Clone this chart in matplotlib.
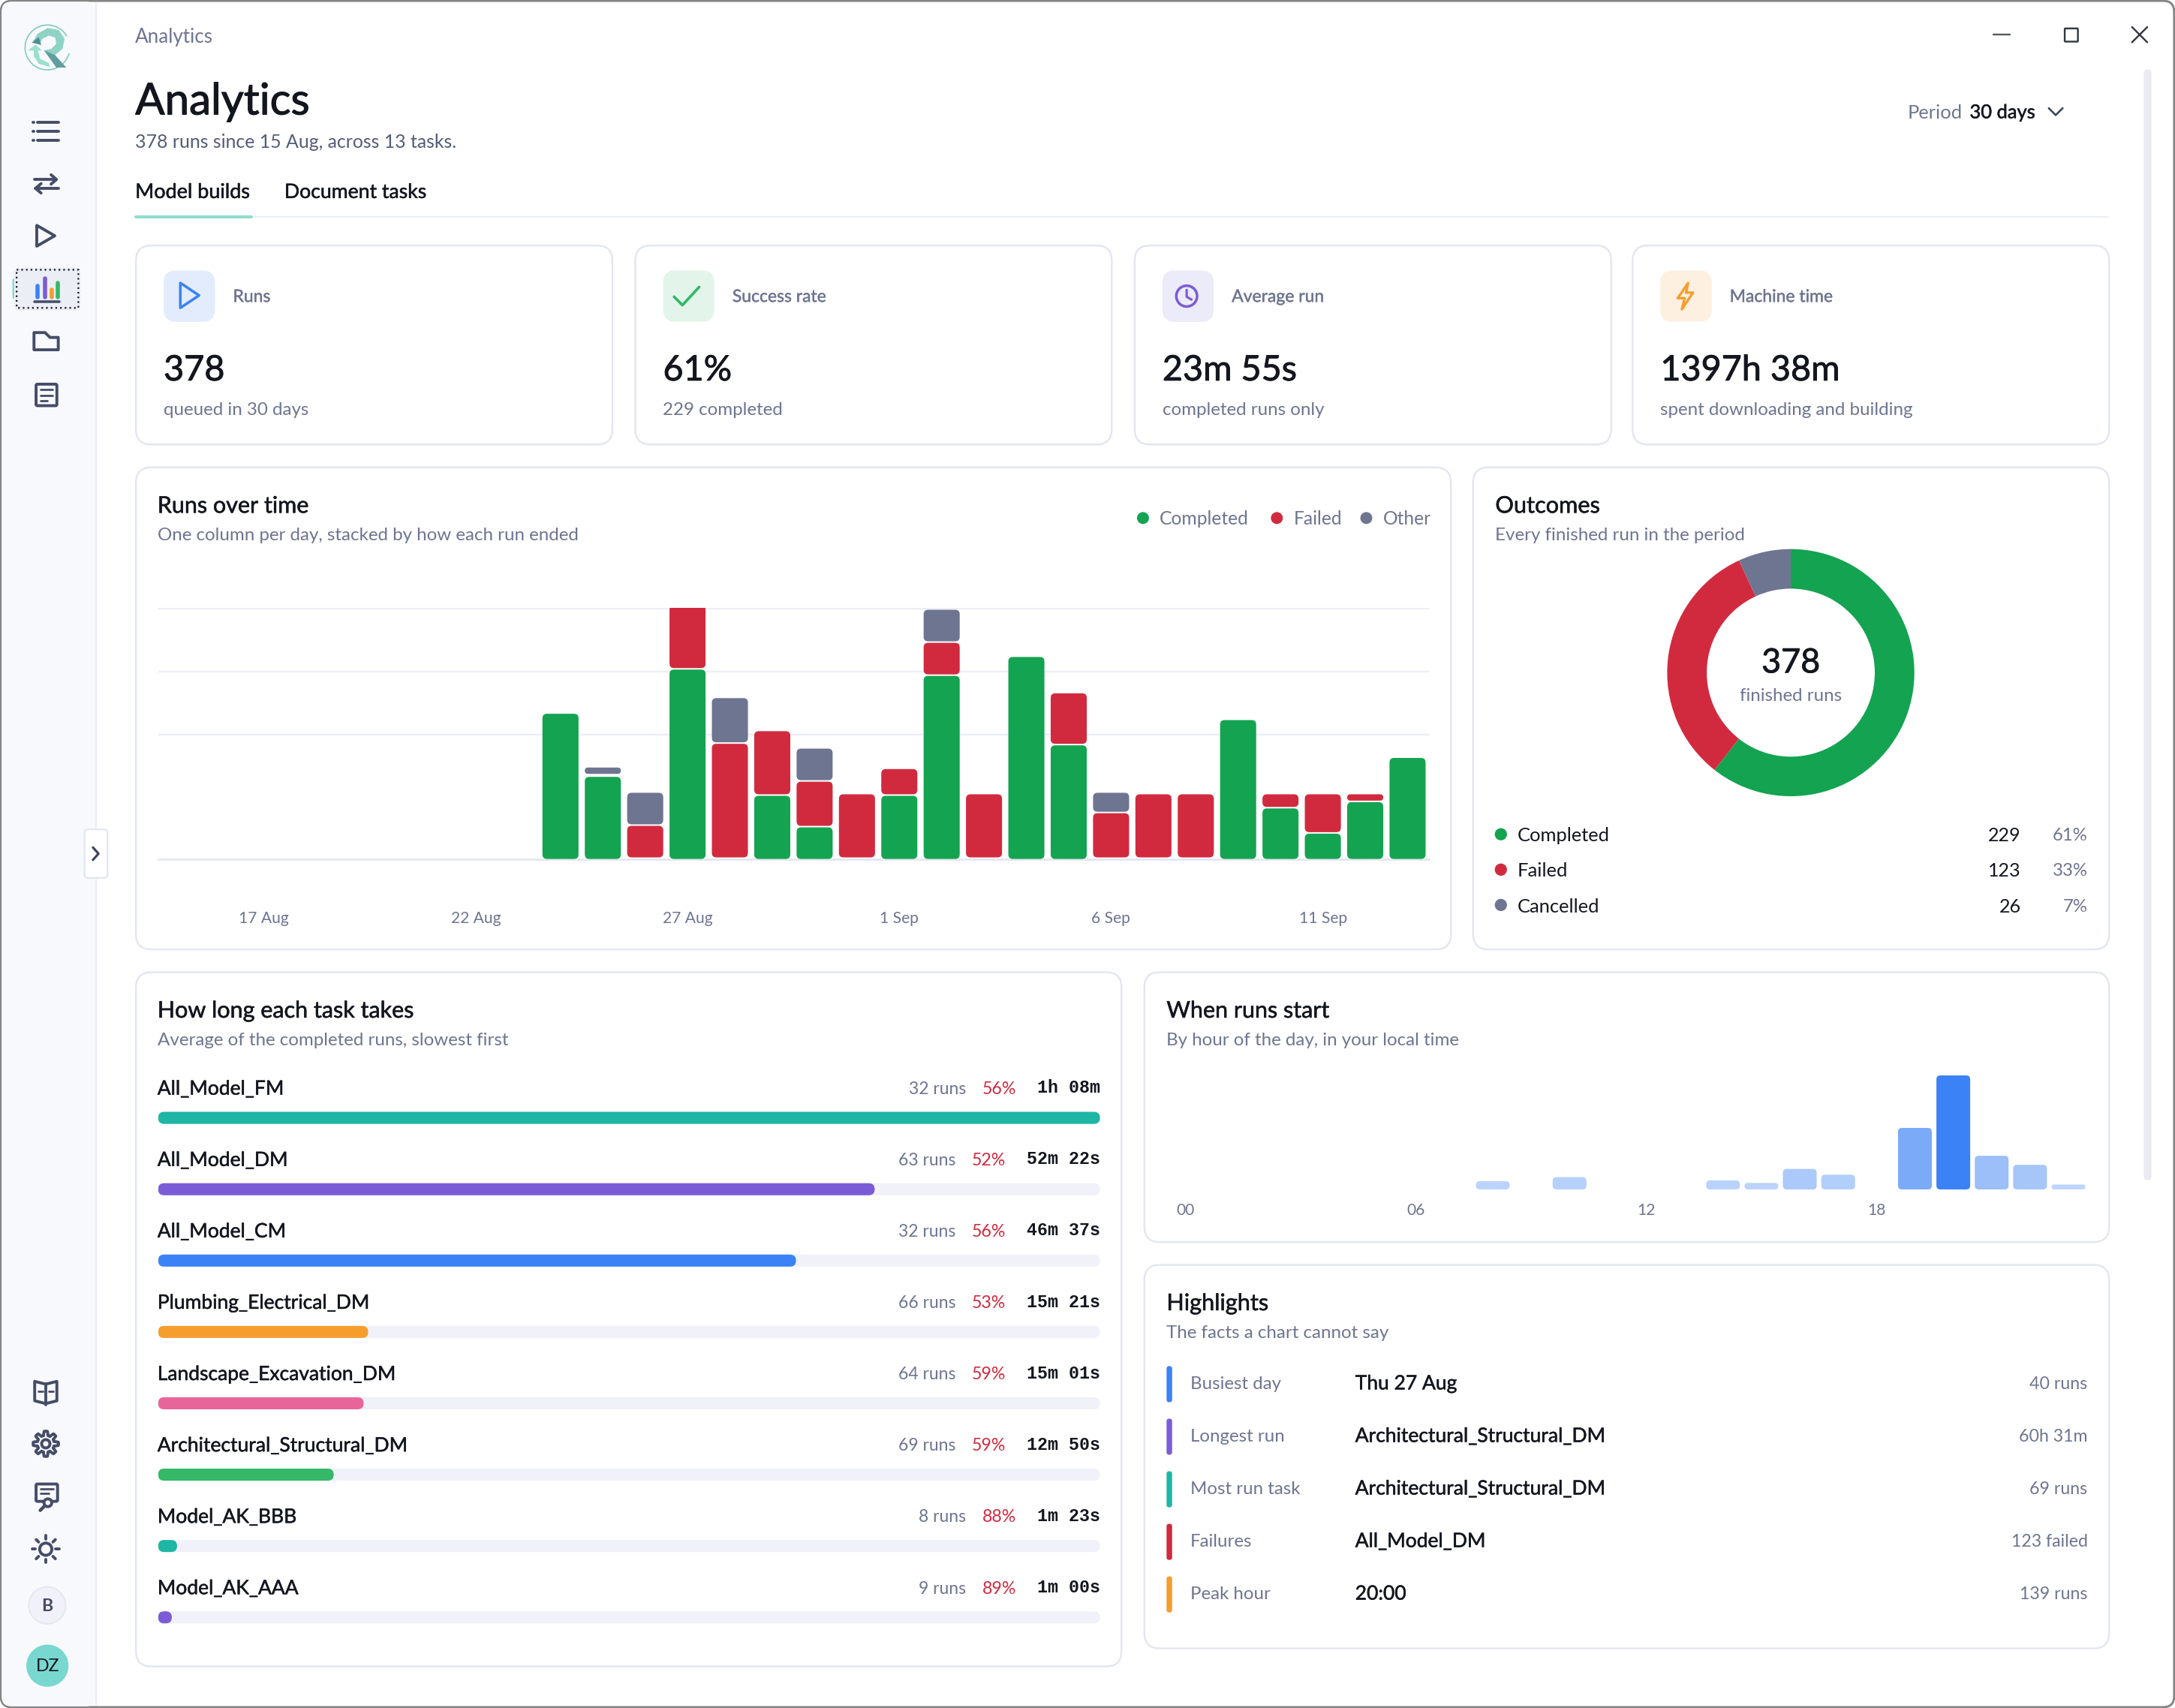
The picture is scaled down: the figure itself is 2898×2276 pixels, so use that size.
"""Analytics dashboard recreated with matplotlib"""
import matplotlib
matplotlib.use("Agg")
import matplotlib.pyplot as plt
import matplotlib.patheffects as pe
import numpy as np
from matplotlib.patches import Circle, FancyBboxPatch, Polygon, Wedge

plt.rcParams["font.family"] = ["Lato", "DejaVu Sans"]

# runs per day, 15 Aug to 13 Sep
days = np.arange(30)
completed = [0, 0, 0, 0, 0, 0, 0, 0, 0, 23, 13, 0, 30, 0, 10, 5, 0, 10, 29, 0, 32, 18, 0, 0, 0, 22, 8, 4, 9, 16]
failed = [0, 0, 0, 0, 0, 0, 0, 0, 0, 0, 0, 5, 10, 18, 10, 7, 10, 4, 5, 10, 0, 8, 7, 10, 10, 0, 2, 6, 1, 0]
other = [0, 0, 0, 0, 0, 0, 0, 0, 0, 0, 1, 5, 0, 7, 0, 5, 0, 0, 5, 0, 0, 0, 3, 0, 0, 0, 0, 0, 0, 0]
day_ticks = [2, 7, 12, 17, 22, 27]
day_labels = ["17 Aug", "22 Aug", "27 Aug", "1 Sep", "6 Sep", "11 Sep"]
grid_values = [19.7, 29.7, 39.7]

outcome_names = ["Completed", "Failed", "Cancelled"]
outcome_counts = [229, 123, 26]
outcome_pcts = ["61%", "33%", "7%"]

tasks = ["All_Model_FM", "All_Model_DM", "All_Model_CM", "Plumbing_Electrical_DM", "Landscape_Excavation_DM",
         "Architectural_Structural_DM", "Model_AK_BBB", "Model_AK_AAA"]
task_seconds = [4130, 3142, 2797, 921, 901, 770, 83, 60]
task_times = ["1h 08m", "52m 22s", "46m 37s", "15m 21s", "15m 01s", "12m 50s", "1m 23s", "1m 00s"]
task_runs = [32, 63, 32, 66, 64, 69, 8, 9]
task_rates = [56, 52, 56, 53, 59, 59, 88, 89]

hour_counts = [0, 0, 0, 0, 0, 0, 0, 0, 10, 0, 15, 0, 0, 0, 11, 8, 25, 18, 0, 75, 139, 41, 30, 6]
hour_ticks = [0, 6, 12, 18]
hour_labels = ["00", "06", "12", "18"]

kpi_titles = ["Runs", "Success rate", "Average run", "Machine time"]
kpi_values = ["378", "61%", "23m 55s", "1397h 38m"]
kpi_notes = ["queued in 30 days", "229 completed", "completed runs only", "spent downloading and building"]

highlight_names = ["Busiest day", "Longest run", "Most run task", "Failures", "Peak hour"]
highlight_values = ["Thu 27 Aug", "Architectural_Structural_DM", "Architectural_Structural_DM", "All_Model_DM", "20:00"]
highlight_notes = ["40 runs", "60h 31m", "69 runs", "123 failed", "139 runs"]

# colours
INK = "#14161f"
MUTED = "#6e7591"
ICON = "#454c68"
LINE = "#e3e6f1"
TRACK = "#f0f1f9"
GREEN = "#14a350"
RED = "#d12a3f"
GREY = "#6e7591"
TEAL = "#1fb6a6"
PURPLE = "#7c5cd6"
BLUE = "#3b82f6"
ORANGE = "#f59e2e"
PINK = "#e8659a"
LEAF = "#35b868"
task_colors = [TEAL, PURPLE, BLUE, ORANGE, PINK, LEAF, TEAL, PURPLE]
highlight_colors = [BLUE, PURPLE, TEAL, RED, ORANGE]

# layout is worked out in the scaled screenshot coordinates
W, H = 1568.0, 1231.5
PT = 2898 / W * 72 / 200  # one layout unit in points

fig = plt.figure(figsize=(14.49, 11.38), dpi=200, facecolor="white")
bg = fig.add_axes([0, 0, 1, 1])
bg.set_xlim(0, W)
bg.set_ylim(H, 0)
bg.axis("off")


def box(x0, y0, x1, y1, r=0, fc="white", ec="none", lw=1.0, ls="-", z=1):
    bg.add_patch(FancyBboxPatch((x0, y0), x1 - x0, y1 - y0, boxstyle=f"round,pad=0,rounding_size={r}",
                                fc=fc, ec=ec, lw=lw * PT, ls=ls, zorder=z))


def line(xs, ys, c=ICON, lw=2.1, z=5):
    bg.plot(xs, ys, color=c, lw=lw * PT, solid_capstyle="round", solid_joinstyle="round", zorder=z)


def text(x, y, s, size=13.5, c=INK, ha="left", weight="normal", family=None):
    t = bg.text(x, y + 0.5 + size * 0.05, s, fontsize=size * PT, color=c, ha=ha, va="center",
                family=family if family else ["Lato", "DejaVu Sans"], zorder=6,
                fontweight=weight if weight == "bold" else "normal")
    if weight == "medium":
        # no medium cut of the font, thicken the regular a little
        t.set_path_effects([pe.withStroke(linewidth=0.018 * size * PT, foreground=c)])


def inset(x0, y0, x1, y1):
    ax = fig.add_axes([x0 / W, 1 - y1 / H, (x1 - x0) / W, (y1 - y0) / H])
    ax.patch.set_alpha(0)
    for s in ax.spines.values():
        s.set_visible(False)
    return ax


def round_bar(ax, x, y, w, h, r, color, z=3):
    # rounded bar in data units, r is in layout units
    p0 = ax.transData.transform((0, 0))
    p1 = ax.transData.transform((1, 1))
    unit = fig.dpi * fig.get_figwidth() / W
    sx = abs(p1[0] - p0[0]) / unit
    sy = abs(p1[1] - p0[1]) / unit
    r = min(r, w * sx / 2, h * sy / 2)
    ax.add_patch(FancyBboxPatch((x, y), w, h, boxstyle=f"round,pad=0,rounding_size={r / sx}",
                                mutation_aspect=sx / sy, fc=color, ec="none", zorder=z))


def logo_poly(points, color, z=4):
    # points measured on a 3x crop of the logo
    pts = [((10 + px / 3) / 1.848, (10 + py / 3) / 1.848) for px, py in points]
    bg.add_patch(Polygon(pts, fc=color, ec="none", zorder=z))


# window and sidebar
box(0.6, 0.6, W - 0.6, H - 0.6, r=8, fc="white", ec="#858585", lw=1.6, z=0)
box(1.2, 1.2, 69, H - 1.2, r=7, fc="#f8f9fd", z=0.5)
line([69, 69], [2, H - 2], c="#eceef6", lw=1.2, z=1)

# logo
bg.add_patch(Wedge((34.2, 34.2), 16.6, 15, 330, width=0.9, fc="#86c9bd", ec="none", zorder=3))
logo_poly([(100, 140), (120, 105), (160, 82), (205, 90), (228, 125), (220, 165), (190, 190), (145, 172),
           (175, 165), (195, 145), (190, 120), (165, 112), (140, 125), (130, 142)], "#8fd3c4")
logo_poly([(145, 170), (190, 190), (235, 240), (195, 240)], "#5f9da1")
logo_poly([(97, 140), (125, 118), (135, 150)], "#4f8f94", z=5)
logo_poly([(82, 172), (112, 148), (138, 172), (122, 172), (130, 205), (165, 222), (170, 238), (125, 225),
           (105, 195), (105, 172)], "#9be0cf", z=5)

# sidebar icons
for yy in [88.2, 94.7, 101]:
    line([24, 24.4], [yy, yy])
    line([27, 42], [yy, yy])
line([25, 40.7], [129.4, 129.4])
line([36.8, 40.7, 36.8], [126, 129.4, 132.8])
line([42, 25.6], [135.8, 135.8])
line([29.6, 25.6, 29.6], [132.4, 135.8, 139.2])
bg.add_patch(Polygon([[26.5, 162.5], [26.5, 177.5], [39.5, 170]], fc="none", ec=ICON, lw=2.1 * PT, joinstyle="round", zorder=5))
box(10, 193, 58, 224, r=4, fc="#eceef5", z=2)
box(12, 194.5, 56.5, 222, r=0, fc="none", ec=INK, lw=1.2, ls=(0, (1, 1.8)), z=4)
line([10.5, 10.5], [202, 214], c="#62cfc0", lw=2.4, z=1.5)
line([27, 27], [206, 214], c=BLUE, lw=3)
line([32.3, 32.3], [201, 214], c=PURPLE, lw=3)
line([37.3, 37.3], [209, 214], c=ORANGE, lw=3)
line([41.5, 41.5], [204, 214], c=LEAF, lw=3)
line([25, 43], [217.5, 217.5], lw=1.9)
bg.add_patch(Polygon([[24.5, 239.8], [32.5, 239.8], [36, 243.3], [42, 243.3], [42, 252.2], [24.5, 252.2]],
                     fc="none", ec=ICON, lw=2.1 * PT, joinstyle="round", zorder=5))
box(26, 277, 41, 292.5, r=1, fc="none", ec=ICON, lw=2.1, z=5)
for yy, xe in [(281, 38), (285, 38), (289, 34)]:
    line([29, xe], [yy, yy], lw=1.5)

# bottom sidebar icons
line([33, 33], [998, 1013])
line([33, 25, 25, 33, 41, 41, 33], [998, 996, 1010, 1012, 1010, 996, 998])
line([27.5, 31], [1003, 1003], lw=1.5)
line([35, 38.5], [1003, 1003], lw=1.5)
ang = np.linspace(0, 2 * np.pi, 97)
rad = 7.6 + 1.5 * np.clip(np.cos(8 * ang) * 2.4, -1, 1)
line(33 + rad * np.cos(ang), 1041 + rad * np.sin(ang))
bg.add_patch(Circle((33, 1041), 3, fc="none", ec=ICON, lw=2.1 * PT, zorder=5))
box(26, 1070, 41.5, 1082.5, r=1, fc="none", ec=ICON, lw=2.1, z=5)
line([29, 38.5], [1073.5, 1073.5], lw=1.5)
line([29, 35], [1077, 1077], lw=1.5)
bg.add_patch(Circle((34.5, 1083.5), 2.8, fc="#f8f9fd", ec=ICON, lw=2.1 * PT, zorder=6))
line([32, 29], [1086, 1089], lw=2.4)
bg.add_patch(Circle((33, 1117), 4.4, fc="none", ec=ICON, lw=2.1 * PT, zorder=5))
for a in np.arange(8) * np.pi / 4:
    line([33 + 7.3 * np.cos(a), 33 + 9.8 * np.cos(a)], [1117 + 7.3 * np.sin(a), 1117 + 9.8 * np.sin(a)])
bg.add_patch(Circle((34, 1157.5), 13.3, fc="#f1f2f9", ec="#e6e8f0", lw=1.1 * PT, zorder=3))
text(34, 1157, "B", size=12.5, c=ICON, ha="center", weight="bold")
bg.add_patch(Circle((34.2, 1201), 15.2, fc="#78d7cf", ec="none", zorder=3))
text(34.2, 1200.5, "DZ", size=12.5, c=INK, ha="center")

# collapse handle and scrollbar
box(61, 598, 77.5, 633, r=2.5, fc="white", ec=LINE, lw=1.2, z=2)
line([67, 71, 67], [611, 615.5, 620], c="#3c435c", lw=1.7)
box(1545.5, 50, 1551, 851, r=2.7, fc="#e9ebf0", z=2)

# window controls
line([1437, 1449], [25, 25], c="#555a66", lw=1.3)
box(1488.5, 20.5, 1498, 30, r=0.5, fc="none", ec="#333740", lw=1.3, z=5)
line([1537, 1548], [19.5, 30.5], c="#333740", lw=1.3)
line([1548, 1537], [19.5, 30.5], c="#333740", lw=1.3)

# header
text(97.5, 25.5, "Analytics", size=14.1, c=MUTED)
text(97.5, 71.5, "Analytics", size=31.5, weight="medium")
text(97.5, 101.5, "378 runs since 15 Aug, across 13 tasks.", size=13.45, c="#555c78")
text(1375, 80, "Period", size=13.8, c=MUTED)
text(1420, 80, "30 days", size=13.8, weight="medium")
line([1477, 1482, 1487], [78, 83, 78], c="#3c435c", lw=1.4)
text(97.5, 137.5, "Model builds", size=14.6, weight="medium")
text(205, 137.5, "Document tasks", size=14.4, weight="medium")
line([98, 1520], [156.5, 156.5], c="#eceef5", lw=1.1, z=2)
line([98, 181], [156.2, 156.2], c="#8fdccf", lw=2.2, z=3)

# KPI cards
card_x = [(98, 441.5), (458, 801.5), (818, 1161.5), (1177, 1520.5)]
icon_bg = ["#e2ecfd", "#e3f5ea", "#ebebf9", "#fdf0e0"]
for i, (x0, x1) in enumerate(card_x):
    box(x0, 177, x1, 320.5, r=11, ec=LINE, lw=1.3)
    box(x0 + 20, 195, x0 + 57, 232, r=9, fc=icon_bg[i], z=2)
    text(x0 + 70, 213, kpi_titles[i], size=12.4, c=MUTED, weight="medium")
    text(x0 + 20, 265.5, kpi_values[i], size=25.3, weight="medium")
    text(x0 + 20, 294.5, kpi_notes[i], size=13.1, c=MUTED)
bg.add_patch(Polygon([[130, 204], [130, 222], [143.5, 213]], fc="none", ec=BLUE, lw=1.9 * PT, joinstyle="round", zorder=5))
line([486, 492, 504], [214, 220, 207], c=LEAF, lw=2)
bg.add_patch(Circle((855.5, 213.5), 7.5, fc="none", ec=PURPLE, lw=1.9 * PT, zorder=5))
line([855.5, 855.5, 859], [209, 214, 216], c=PURPLE, lw=1.7)
bg.add_patch(Polygon([[1217, 204], [1209.5, 215], [1214.5, 215], [1212.5, 223], [1220.5, 211], [1215.5, 211]],
                     fc="none", ec=ORANGE, lw=1.8 * PT, joinstyle="round", zorder=5))

# other cards
box(98, 337, 1046, 684.5, r=11, ec=LINE, lw=1.3)
box(1062, 337, 1520.5, 684.5, r=11, ec=LINE, lw=1.3)
box(98, 701, 808.5, 1201.5, r=11, ec=LINE, lw=1.3)
box(825, 701, 1520.5, 895.5, r=11, ec=LINE, lw=1.3)
box(825, 912, 1520.5, 1188.5, r=11, ec=LINE, lw=1.3)

# runs over time
text(113.5, 363.5, "Runs over time", size=16.5, weight="medium")
text(113.5, 385, "One column per day, stacked by how each run ended", size=13.05, c=MUTED)
for dot_x, name, col in [(824, "Completed", GREEN), (920.5, "Failed", RED), (985, "Other", GREY)]:
    bg.add_patch(Circle((dot_x, 373.5), 4.3, fc=col, ec="none", zorder=4))
    text(dot_x + 12, 373, name, size=13.3, c=MUTED)

ax = inset(114, 438.1, 1030, 619.3)
ax.set_xlim(-0.5, 29.5)
ax.set_ylim(0, 39.82)
ax.set_yticks(grid_values)
ax.set_yticklabels([])
ax.grid(axis="y", color="#eceef6", lw=1.3 * PT)
ax.set_axisbelow(True)
ax.axhline(0, color=LINE, lw=1.5 * PT, zorder=2, clip_on=False)
ax.set_xticks(day_ticks)
ax.set_xticklabels(day_labels, fontsize=11.35 * PT, color=MUTED)
ax.tick_params(length=0, pad=37.5 * PT)
gap = 0.24
bar_w = 26 / (916 / 30)
for d, g, f, o in zip(days, completed, failed, other):
    y = 0
    for v, col in [(g, GREEN), (f, RED), (o, GREY)]:
        if v:
            round_bar(ax, d - bar_w / 2, y, bar_w, v, 3.2, col)
            y += v
        y += gap

# outcomes
text(1078, 363.5, "Outcomes", size=16.6, weight="medium")
text(1078, 385, "Every finished run in the period", size=13.05, c=MUTED)
ax = inset(1201, 395, 1381, 575)
ax.pie(outcome_counts, colors=[GREEN, RED, GREY], startangle=90, counterclock=False, radius=0.99,
       wedgeprops={"width": 0.99 * 28.5 / 89, "linewidth": 0})
ax.set_xlim(-1, 1)
ax.set_ylim(-1, 1)
text(1291, 476.5, "378", size=24.3, ha="center", weight="medium")
text(1291, 500.5, "finished runs", size=13.0, c=MUTED, ha="center")
for yy, name, n, pct, col in zip([602, 627.5, 653], outcome_names, outcome_counts, outcome_pcts, [GREEN, RED, GREY]):
    bg.add_patch(Circle((1082, yy - 0.5), 4.4, fc=col, ec="none", zorder=4))
    text(1094, yy - 0.5, name, size=13.8)
    text(1457, yy - 0.5, str(n), size=13.6, ha="right")
    text(1505, yy - 0.5, pct, size=12.9, c=MUTED, ha="right")

# task durations
text(113.5, 727.5, "How long each task takes", size=16.5, weight="medium")
text(113.5, 749, "Average of the completed runs, slowest first", size=13.05, c=MUTED)
row_y = 51.45
ax = inset(114, 778, 793, 778 + 8 * row_y)
ax.set_xlim(0, task_seconds[0])
ax.set_ylim(8, 0)
ax.set_xticks([])
ax.set_yticks([])
for i, name in enumerate(tasks):
    y_mid = 784 + i * row_y
    text(113.5, y_mid, name, size=14.3, weight="medium")
    right = 793
    text(right, y_mid - 0.7, task_times[i], size=12.6, ha="right", weight="bold", family="Liberation Mono")
    shift = 60.5 if len(task_times[i]) == 6 else 68
    text(right - shift, y_mid + 0.2, f"{task_rates[i]}%", size=12.5, c=RED, ha="right")
    text(right - shift - 36, y_mid + 0.2, f"{task_runs[i]} runs", size=12.4, c=MUTED, ha="right")
    h = 8.7 / row_y
    y_bar = (i * row_y + 807 - 778 - 4.35 - 1) / row_y
    round_bar(ax, 0, y_bar, task_seconds[0], h, 4.3, TRACK, z=2)
    round_bar(ax, 0, y_bar, task_seconds[i], h, 4.3, task_colors[i], z=3)

# hour of day
text(841, 727.5, "When runs start", size=16.5, weight="medium")
text(841, 749, "By hour of the day, in your local time", size=13.05, c=MUTED)
ax = inset(841, 775.4, 1505, 857.6)
ax.set_xlim(-0.5, 23.5)
ax.set_ylim(0, max(hour_counts))
ax.set_yticks([])
ax.set_xticks(hour_ticks)
ax.set_xticklabels(hour_labels, fontsize=11.35 * PT, color=MUTED)
ax.tick_params(length=0, pad=10 * PT)
for hr, v in enumerate(hour_counts):
    if v:
        round_bar(ax, hr - 0.44, 0, 0.88, v, 2.8, BLUE, z=3)
        ax.patches[-1].set_alpha(0.3 + 0.7 * v / max(hour_counts))

# highlights
text(841, 938.5, "Highlights", size=16.6, weight="medium")
text(841, 960, "The facts a chart cannot say", size=13.05, c=MUTED)
for i in range(5):
    yy = 998 + i * 37.9
    box(841, yy - 13, 845, yy + 13, r=1.8, fc=highlight_colors[i], z=2)
    text(858, yy - 1, highlight_names[i], size=13.0, c=MUTED)
    text(977, yy - 1.5, highlight_values[i], size=14.3, weight="medium")
    text(1505, yy - 1, highlight_notes[i], size=12.5, c=MUTED, ha="right")

fig.savefig("out.png", dpi=200, facecolor="white")
